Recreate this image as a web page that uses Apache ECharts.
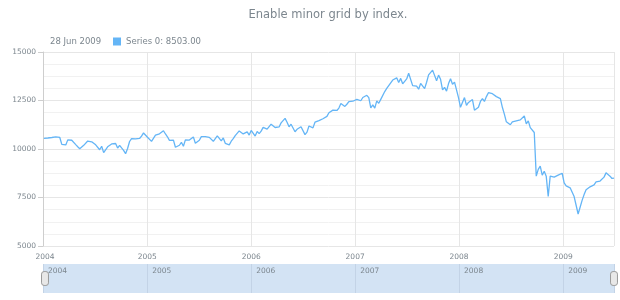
<!DOCTYPE html>
<html>
<head>
<meta charset="utf-8">
<script src="https://cdn.jsdelivr.net/npm/echarts@6/dist/echarts.min.js"></script>
<style>
html,body{margin:0;padding:0;background:#ffffff;}
#chart{width:620px;height:300px;}
</style>
</head>
<body>
<div id="chart"></div>
<script>
// ---- data ----
const chartTitle = 'Enable minor grid by index.';
const seriesName = 'Series 0';
const yMin = 5000, yMax = 15000, yStep = 2500;
const axisStart = '2004-01-01';
// first weekly date of each year (weekly points, Sundays)
const yearFirstDate = {
  2004: '2004-01-04', 2005: '2005-01-02', 2006: '2006-01-01',
  2007: '2007-01-07', 2008: '2008-01-06', 2009: '2009-01-04'
};
const values2004 = [10550,10600,10568,10488, 10593,10628,10620,10584,10595, 10240,10186,10212,10470,
  10442,10452,10472,10226, 10118,10012,9966,10188,10243, 10410,10416,10371,10283,
  10214,10140,9962,10140, 9815,9825,10111,10195,10260, 10314,10284,10047,10192,
  10055,9933,9758,10027,10387, 10539,10456,10522,10592, 10543,10661,10828,10783];
const values2005 = [10603,10558,10393,10427,10716, 10796,10785,10841,10941, 10774,10630,10442,10404,
  10461,10088,10157,10193, 10345,10140,10471,10542,10460, 10512,10623,10297,10303,
  10449,10640,10651,10641,10558, 10600,10559,10397,10447, 10679,10642,10419,10569,
  10292,10287,10215,10402,10530, 10686,10766,10931,10878, 10778,10875,10883,10718];
const values2006 = [10959,10960,10668,10908,10794, 10920,11116,11061,11022, 11077,11279,11280,11109,
  11120,11137,11347,11367,11578, 11380,11144,11278,11247, 10891,11014,10990,11150,
  11091,10739,10868,11185,11240, 11089,11381,11284,11464, 11392,11560,11508,11679,
  11866,11961,12002,12090,11986, 12108,12342,12280,12194, 12307,12445,12343,12463,12398];
const values2007 = [12556,12565,12487,12654, 12581,12768,12647,12114, 12277,12110,12481,12354,
  12560,12612,12961,13120,13265, 13326,13556,13507,13668, 13424,13639,13361,13408,
  13611,13907,13851,13265,13182, 13239,13079,13379,13358, 13113,13442,13821,13896,14066,
  14093,13522,13807,13595, 13043,13177,12981,13372, 13625,13339,13450,13366,12650];
const values2008 = [12150,12250,12650,12250, 12400,12450,12550,12000, 12100,12150,12450,12600,12450,
  12700,12900,12990,12850, 12950,12700,12750,12600, 12150,11800,11400,11300,11250,
  11400,11350,11450,11450, 11500,11600,11700,11300,11450, 11100,11000,10850,8600,
  8950,9120,8650,8850, 8600,7550,8600,8500,8550, 8480,8650,8700,8750];
const values2009 = [8250,8100,8050,8000, 7950,7550,7100,6650, 7000,7350,7650,7900,7850,
  8050,8000,8150,8300, 8400,8350,8450,8550,8770, 8780,8600,8480,8503];
const valuesByYear = {2004: values2004, 2005: values2005, 2006: values2006, 2007: values2007, 2008: values2008, 2009: values2009};
const monthNames = ['Jan','Feb','Mar','Apr','May','Jun','Jul','Aug','Sep','Oct','Nov','Dec'];

// ---- build ----
function parseDay(s) { const p = s.split('-').map(Number); return new Date(p[0], p[1] - 1, p[2]); }
const seriesData = [];
Object.keys(valuesByYear).forEach(function (yr) {
  const start = parseDay(yearFirstDate[yr]);
  valuesByYear[yr].forEach(function (v, i) {
    const dt = new Date(start.getFullYear(), start.getMonth(), start.getDate() + 7 * i);
    seriesData.push([dt.getTime(), v]);
  });
});
const lastPoint = seriesData[seriesData.length - 1];
const lastDate = new Date(lastPoint[0]);
const lastLabel = String(lastDate.getDate()).padStart(2, '0') + ' ' + monthNames[lastDate.getMonth()] + ' ' + lastDate.getFullYear();
const xMin = parseDay(axisStart).getTime();
const xMax = lastPoint[0];
const YEAR_MS = 365 * 24 * 3600 * 1000;
const TXT = '#7c868e';
const FONT = 'DejaVu Sans';

function yearOnly(v) {
  const d = new Date(v);
  return (d.getMonth() === 0 && d.getDate() === 1) ? String(d.getFullYear()) : '';
}
function mainYearLabel(v) {
  const s = yearOnly(v);
  if (!s) return '';
  return v === xMin ? '{pad|' + s + '}' : s;
}

const chart = echarts.init(document.getElementById('chart'), null, {renderer: 'canvas'});
chart.setOption({
  animation: false,
  textStyle: {fontFamily: FONT},
  title: [
    {text: chartTitle, left: 328, top: 9, textAlign: 'center', padding: 0,
     textStyle: {fontSize: 11.5, fontWeight: 'normal', color: TXT, fontFamily: FONT}},
    {text: lastLabel, left: 50, top: 37, padding: 0,
     textStyle: {fontSize: 8.5, fontWeight: 'normal', color: TXT, fontFamily: FONT}}
  ],
  legend: {
    left: 113, top: 37, padding: 0, itemWidth: 8, itemHeight: 8, icon: 'rect',
    data: [seriesName],
    formatter: function (n) { return n + ': ' + lastPoint[1].toFixed(2); },
    textStyle: {fontSize: 8.5, color: TXT, fontFamily: FONT}
  },
  grid: [
    {left: 43, right: 6, top: 52, height: 194, containLabel: false, outerBoundsMode: 'none'},
    {left: 43, right: 6, top: 264, height: 29, show: true, backgroundColor: '#d3e3f4', borderWidth: 0, containLabel: false, outerBoundsMode: 'none'}
  ],
  xAxis: [
    {type: 'time', gridIndex: 0, min: xMin, max: xMax, splitNumber: 5, minInterval: YEAR_MS,
     axisLine: {show: false}, axisTick: {show: false},
     axisLabel: {color: TXT, fontSize: 7.5, fontFamily: FONT, margin: 7, formatter: mainYearLabel,
                 hideOverlap: false, alignMinLabel: 'left',
                 rich: {pad: {padding: [0, 0, 0, 4], color: TXT, fontSize: 7.5, fontFamily: FONT}}},
     splitLine: {show: true, lineStyle: {color: '#e6e6e6', width: 1}}},
    {type: 'time', gridIndex: 1, min: xMin, max: xMax, position: 'top', splitNumber: 5, minInterval: YEAR_MS,
     axisLine: {show: false}, axisTick: {show: false},
     axisLabel: {inside: true, color: TXT, fontSize: 7.5, fontFamily: FONT, margin: 3, align: 'left',
                 padding: [0, 0, 0, 5], formatter: yearOnly, hideOverlap: false},
     splitLine: {show: true, lineStyle: {color: '#c3d3e6', width: 1}}}
  ],
  yAxis: [
    {type: 'value', gridIndex: 0, min: yMin, max: yMax, interval: yStep,
     axisLine: {show: true, lineStyle: {color: '#cecece'}},
     axisTick: {show: true, length: 5, lineStyle: {color: '#cecece'}},
     axisLabel: {color: TXT, fontSize: 7.5, fontFamily: FONT, margin: 7,
                 formatter: function (v) { return String(v); }},
     splitLine: {show: true, lineStyle: {color: '#e6e6e6'}},
     minorTick: {show: false, splitNumber: 4},
     minorSplitLine: {show: true, lineStyle: {color: '#f1f1f1'}}},
    {type: 'value', gridIndex: 1, min: 0, max: 1, show: false}
  ],
  dataZoom: [{
    type: 'slider', xAxisIndex: 0, filterMode: 'none', left: 43, right: 6, top: 264, height: 29,
    start: 0, end: 100, showDetail: false, showDataShadow: false, brushSelect: false,
    backgroundColor: 'rgba(0,0,0,0)', borderColor: 'rgba(0,0,0,0)', fillerColor: 'rgba(0,0,0,0)',
    dataBackground: {lineStyle: {opacity: 0}, areaStyle: {opacity: 0}},
    selectedDataBackground: {lineStyle: {opacity: 0}, areaStyle: {opacity: 0}},
    handleIcon: 'path://M3,0H5A3,3,0,0,1,8,3V13A3,3,0,0,1,5,16H3A3,3,0,0,1,0,13V3A3,3,0,0,1,3,0Z',
    handleSize: '48%', handleStyle: {color: '#e8e8e8', borderColor: '#9a9a9a', borderWidth: 1},
    moveHandleSize: 0, moveHandleStyle: {opacity: 0},
    emphasis: {handleStyle: {color: '#e8e8e8', borderColor: '#9a9a9a'}, moveHandleStyle: {opacity: 0}},
    z: 10
  }],
  series: [{
    type: 'line', name: seriesName, xAxisIndex: 0, yAxisIndex: 0, data: seriesData,
    showSymbol: false, symbol: 'none',
    lineStyle: {width: 1.3, color: '#64b5f6'}, itemStyle: {color: '#64b5f6'}
  }]
});
</script>
</body>
</html>
